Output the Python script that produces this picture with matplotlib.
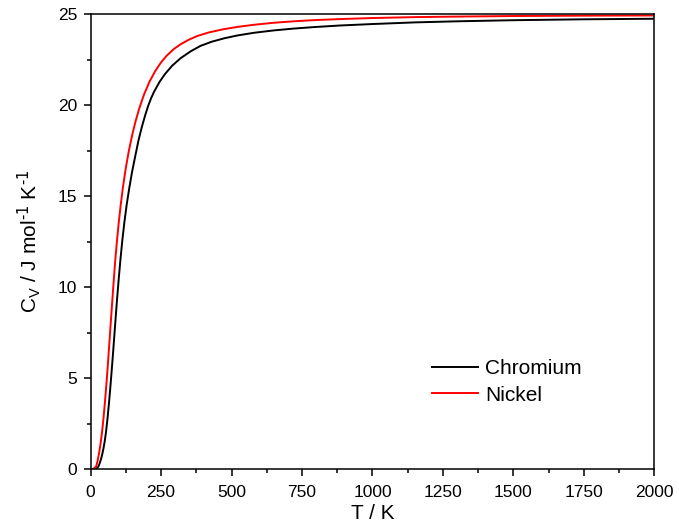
import matplotlib
matplotlib.use("Agg")
import matplotlib.pyplot as plt
from matplotlib.ticker import MultipleLocator

plt.rcParams['font.family'] = ['Liberation Sans', 'DejaVu Sans']
plt.rcParams['mathtext.default'] = 'regular'

# heat capacity (T in K, Cv in J/mol/K)
T_cr = [0, 15, 22, 28, 33, 38, 42, 46, 50, 55, 60, 65, 70, 75, 80, 85, 90, 95, 100,
        106, 113, 120, 128, 137, 147, 158, 170, 182, 195, 205, 215, 225, 245, 265,
        290, 320, 355, 390, 430, 475, 520, 580, 650, 720, 790, 885, 1000, 1150,
        1300, 1500, 1750, 2000]
cv_cr = [0, 0.01, 0.05, 0.15, 0.35, 0.6, 0.85, 1.15, 1.5, 2.05, 2.75, 3.55, 4.45,
         5.4, 6.4, 7.45, 8.5, 9.5, 10.45, 11.5, 12.6, 13.55, 14.5, 15.4, 16.3, 17.15,
         18.05, 18.8, 19.5, 19.98, 20.38, 20.72, 21.28, 21.72, 22.17, 22.58, 22.95,
         23.25, 23.48, 23.67, 23.82, 23.97, 24.1, 24.2, 24.28, 24.37, 24.45, 24.54,
         24.6, 24.66, 24.71, 24.74]

T_ni = [0, 10, 20, 25, 31, 36, 41, 46, 51, 56, 60, 64, 68, 73, 77, 82, 87, 93, 100,
        107, 115, 125, 136, 148, 160, 173, 190, 210, 230, 250, 270, 295, 320, 350,
        380, 420, 470, 520, 580, 650, 720, 800, 900, 1000, 1150, 1300, 1500, 1750,
        2000]
cv_ni = [0, 0.02, 0.15, 0.45, 0.95, 1.45, 2.05, 2.8, 3.65, 4.6, 5.42, 6.3, 7.2, 8.32,
         9.2, 10.28, 11.33, 12.41, 13.53, 14.51, 15.49, 16.53, 17.49, 18.37, 19.12,
         19.82, 20.59, 21.31, 21.88, 22.34, 22.71, 23.07, 23.345, 23.6, 23.8, 23.99,
         24.16, 24.29, 24.41, 24.52, 24.6, 24.67, 24.73, 24.78, 24.83, 24.86, 24.89,
         24.91, 24.92]

fig = plt.figure(figsize=(6.79, 5.27), dpi=100)
ax = fig.add_axes([0.1333, 0.1095, 0.8306, 0.8639])

ax.plot(T_cr, cv_cr, color='black', lw=1.4, label='Chromium')
ax.plot(T_ni, cv_ni, color='#ff0000', lw=1.4, label='Nickel')

ax.set_xlim(0, 2000)
ax.set_ylim(0, 25)
ax.xaxis.set_major_locator(MultipleLocator(250))
ax.xaxis.set_minor_locator(MultipleLocator(125))
ax.yaxis.set_major_locator(MultipleLocator(5))
ax.yaxis.set_minor_locator(MultipleLocator(2.5))
ax.tick_params(which='both', direction='out', top=False, right=False,
               labelsize=12.5, width=1.1, pad=4.5)
ax.tick_params(axis='x', which='both', pad=6.5)
ax.tick_params(which='major', length=5)
ax.tick_params(which='minor', length=3)
for s in ax.spines.values():
    s.set_linewidth(1.1)

ax.set_xlabel('T / K', fontsize=15, labelpad=3)
ax.set_ylabel(r'C$_V$ / J mol$^{\text{-1}}$ K$^{\text{-1}}$', fontsize=15, labelpad=11)

ax.legend(loc='center left', bbox_to_anchor=(0.605, 0.192), frameon=False,
          fontsize=15, handlelength=2.2, handletextpad=0.35, labelspacing=0.35,
          borderpad=0, borderaxespad=0)

fig.savefig('out.png', dpi=100)
